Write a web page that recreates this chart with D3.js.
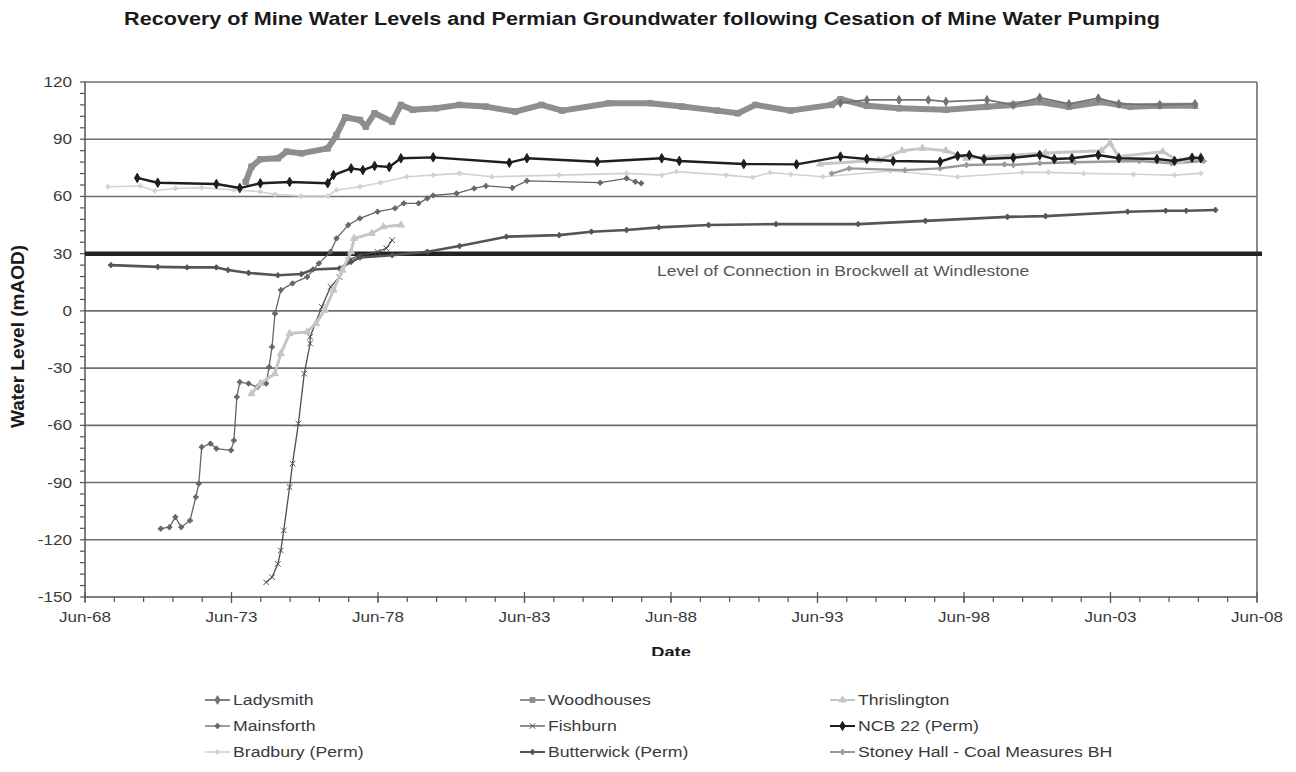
<!DOCTYPE html>
<html>
<head>
<meta charset="utf-8">
<script src="https://cdn.jsdelivr.net/npm/d3@7"></script>
<style>
  body { margin: 0; background: #fff; }
  text { font-family: Arial, "Liberation Sans", sans-serif; }
</style>
</head>
<body>
<svg id="chart"></svg>
<script>
// values: [decimal year, water level mAOD]
var ladysmith = [[1994.2,109],[1995.1,110.6],[1996.2,110.6],[1997.2,110.6],[1997.8,109.7],[1999.2,110.6],[2000.1,108],[2001.0,111.8],[2002.0,108.5],[2003.0,111.5],[2003.7,108.5],[2005.1,108],[2006.3,108.5]];
var woodhouses = [[1973.9,67.7],[1974.1,75.6],[1974.4,79.5],[1975.0,80],[1975.3,83.5],[1975.8,82.6],[1976.7,85.2],[1977.0,92.2],[1977.3,101.5],[1977.8,100.1],[1978.0,96.6],[1978.3,103.6],[1978.9,99.2],[1979.2,108],[1979.6,105.4],[1980.4,106.2],[1981.2,108],[1982.1,107.1],[1983.1,104.5],[1984.0,108],[1984.7,105],[1986.3,108.9],[1987.7,108.9],[1988.8,107.1],[1990.0,105],[1990.7,103.6],[1991.3,108],[1992.5,105],[1993.9,108],[1994.2,111],[1995.1,107.5],[1996.2,106.2],[1997.8,105.4],[1999.2,107],[2000.1,108],[2001.0,109.5],[2002.0,107],[2003.1,109.5],[2004.1,107],[2005.1,107.5],[2006.3,107.5]];
var thrislington = [[1974.1,-43.4],[1974.4,-38],[1974.9,-32.9],[1975.1,-22.4],[1975.4,-11.9],[1976.0,-11],[1976.3,-6.6],[1976.6,0.4],[1976.9,10.9],[1977.2,21.4],[1977.5,31],[1977.6,38],[1978.2,40.6],[1978.6,44.1],[1979.2,45],
  null,[1993.5,77],[1995.5,79],[1996.3,84],[1997.0,85.2],[1997.8,84],[1998.5,80],[2001.2,82.8],[2003.1,84],[2003.4,87.9],[2003.7,80.9],[2005.2,83.5],[2005.8,78.2],[2006.5,80.9]];
var mainsforth = [[1971.0,-114.2],[1971.3,-113.4],[1971.5,-108.1],[1971.7,-113.4],[1972.0,-109.9],[1972.2,-97.6],[1972.3,-90.6],[1972.4,-71.4],[1972.7,-69.6],[1972.9,-72.2],[1973.4,-73.1],[1973.5,-67.9],[1973.6,-45.1],[1973.7,-37.3],[1974.0,-38.1],[1974.3,-39.9],[1974.6,-38.1],[1974.7,-29.4],[1974.8,-18.9],[1974.9,-1.4],[1975.1,10.9],[1975.5,14.4],[1976.0,17.8],[1976.4,24.9],[1976.8,31],[1977.0,38],[1977.4,45],[1977.8,48.5],[1978.4,52],[1979.0,53.8],[1979.3,56.4],[1979.8,56.4],[1980.1,59],[1980.3,60.5],[1981.1,61.6],[1981.7,64.2],[1982.1,65.5],[1983.0,64.5],[1983.5,68.2],[1986.0,67.2],[1986.9,69.5],[1987.2,67.7],[1987.4,66.9]];
var fishburn = [[1974.6,-142.3],[1974.8,-139.6],[1975.0,-132.6],[1975.1,-125.6],[1975.2,-115.1],[1975.4,-92.4],[1975.5,-80.1],[1975.7,-59.1],[1975.9,-32.9],[1976.1,-17.1],[1976.1,-13.6],[1976.5,2.1],[1976.8,12.6],[1977.1,17.8],[1977.4,26.6],[1977.8,29.2],[1978.4,31],[1978.7,32.8],[1978.9,37.1]];
var ncb22 = [[1970.2,69.7],[1970.9,67.2],[1972.9,66.5],[1973.7,64.4],[1974.4,66.9],[1975.4,67.6],[1976.7,66.9],[1976.9,71.2],[1977.5,74.7],[1977.9,73.8],[1978.3,76],[1978.8,75.4],[1979.2,80],[1980.3,80.5],[1982.9,77.7],[1983.5,80],[1985.9,78.2],[1988.1,80],[1988.7,78.6],[1990.9,77],[1992.7,76.8],[1994.2,80.9],[1995.1,79.6],[1996.0,78.6],[1997.6,78.2],[1998.2,81.2],[1998.6,81.7],[1999.1,79.6],[2000.1,80.3],[2001.0,81.7],[2001.5,79.6],[2002.1,80],[2003.0,81.7],[2003.7,80],[2005.0,79.6],[2005.6,78.6],[2006.2,80.3],[2006.5,80]];
var bradbury = [[1969.2,65.1],[1970.3,65.5],[1970.8,63],[1971.5,64.2],[1972.4,64.6],[1973.5,63.4],[1974.4,62.5],[1974.9,61.1],[1975.8,60.2],[1976.7,60.2],[1977.0,63.4],[1977.8,65.1],[1978.5,67.2],[1979.4,70.3],[1980.3,71.2],[1981.2,72.1],[1982.3,70.3],[1984.6,71.2],[1986.9,72.1],[1988.1,71.2],[1988.6,73],[1990.3,71.2],[1991.2,70],[1991.8,72.5],[1992.5,71.6],[1993.6,70.3],[1995.9,73.3],[1998.2,70.3],[2000.4,72.6],[2001.3,72.6],[2002.5,72.1],[2004.2,71.6],[2005.6,71.2],[2006.5,72.1]];
var butterwick = [[1969.3,24],[1970.9,23.1],[1971.9,22.8],[1972.9,22.8],[1973.3,21.4],[1974.0,19.9],[1975.0,18.7],[1975.8,19.3],[1976.2,21.7],[1977.1,22.3],[1977.5,25.7],[1977.8,28],[1978.9,29.2],[1980.1,31],[1981.2,34],[1982.8,38.9],[1984.6,39.7],[1985.7,41.5],[1986.9,42.4],[1988.0,43.8],[1989.7,45],[1992.0,45.5],[1994.8,45.5],[1997.1,47.2],[1999.9,49.3],[2001.2,49.7],[2004.0,52],[2005.3,52.5],[2006.0,52.5],[2007.0,52.9]];
var stoneyHall = [[1993.9,72],[1994.5,74.7],[1996.4,73.8],[1997.6,74.7],[1998.5,76.5],[1999.8,76.8],[2000.1,76.5],[2001.0,77.4],[2002.2,77.9],[2004.4,78.6],[2005.5,77.4],[2006.6,78.6]];

var connectionLevel = 30;
var connectionLabel = "Level of Connection in Brockwell at Windlestone";
var yTicks = [-150,-120,-90,-60,-30,0,30,60,90,120];
var xTickYears = [1968,1973,1978,1983,1988,1993,1998,2003,2008];

var screen = {width:1296, height:772};
var margins = {top:82, left:85, right:39, bottom:175};
var graph = {width: screen.width-margins.left-margins.right, height: screen.height-margins.top-margins.bottom};
var stretch = 1.22;   // the picture's lettering is wide

var svg = d3.select("#chart").attr("width", screen.width).attr("height", screen.height);

var xScale = d3.scaleLinear().domain([1968 + 5/12, 2008 + 5/12]).range([margins.left, margins.left+graph.width]);
var yScale = d3.scaleLinear().domain([-150,120]).range([margins.top+graph.height, margins.top]);

var wide = function(x, y)
{
  return "translate(" + x + "," + y + ") scale(" + stretch + ",1)";
}

// series styles and legend order
var series = [
  {name:"Ladysmith", data:ladysmith, color:"#737373", width:1.8, sym:d3.symbolDiamond, size:22, col:0, row:0},
  {name:"Woodhouses", data:woodhouses, color:"#8e8e8e", width:6, sym:d3.symbolSquare, size:30, col:1, row:0},
  {name:"Thrislington", data:thrislington, color:"#c6c6c6", width:3, sym:d3.symbolTriangle, size:22, col:2, row:0},
  {name:"Mainsforth", data:mainsforth, color:"#666666", width:1.3, sym:d3.symbolCross, size:12, col:0, row:1},
  {name:"Fishburn", data:fishburn, color:"#4f4f4f", width:1.3, sym:(d3.symbolTimes || d3.symbolCross), size:22, col:1, row:1},
  {name:"NCB 22 (Perm)", data:ncb22, color:"#1e1e1e", width:2.4, sym:d3.symbolDiamond, size:26, col:2, row:1},
  {name:"Bradbury (Perm)", data:bradbury, color:"#d2d2d2", width:1.6, sym:d3.symbolCross, size:10, col:0, row:2},
  {name:"Butterwick (Perm)", data:butterwick, color:"#555555", width:2.6, sym:d3.symbolCross, size:12, col:1, row:2},
  {name:"Stoney Hall - Coal Measures BH", data:stoneyHall, color:"#9a9a9a", width:2.4, sym:d3.symbolCross, size:12, col:2, row:2}
];
var drawOrder = [6,8,1,0,7,3,4,2,5];

// gridlines
svg.selectAll(".grid").data(yTicks.filter(function(d){return d > -150;}))
  .enter().append("line")
  .attr("x1", margins.left).attr("x2", margins.left+graph.width)
  .attr("y1", function(d){return yScale(d);}).attr("y2", function(d){return yScale(d);})
  .style("stroke", "#6e6e6e").style("stroke-width", 1.6);

svg.append("line")
  .attr("x1", margins.left+graph.width).attr("x2", margins.left+graph.width)
  .attr("y1", margins.top).attr("y2", margins.top+graph.height)
  .style("stroke", "#6e6e6e").style("stroke-width", 1.6);

// y axis with minor ticks every 6
var yMinor = d3.range(-150, 121, 6);
svg.selectAll(".yminor").data(yMinor).enter().append("line")
  .attr("x1", margins.left-5).attr("x2", margins.left)
  .attr("y1", function(d){return yScale(d);}).attr("y2", function(d){return yScale(d);})
  .style("stroke", "#555").style("stroke-width", 1.2);
svg.append("line").attr("x1", margins.left).attr("x2", margins.left)
  .attr("y1", margins.top).attr("y2", margins.top+graph.height)
  .style("stroke", "#555").style("stroke-width", 1.5);
svg.selectAll(".ylab").data(yTicks).enter().append("text")
  .attr("transform", function(d){return wide(margins.left-13, yScale(d)+5);})
  .attr("text-anchor", "end").style("font-size", "14px").style("fill", "#3a3a3a")
  .text(function(d){return d;});

// x axis with yearly minor ticks
var xMinor = d3.range(1968, 2009, 1);
svg.selectAll(".xminor").data(xMinor).enter().append("line")
  .attr("x1", function(d){return xScale(d+5/12);}).attr("x2", function(d){return xScale(d+5/12);})
  .attr("y1", margins.top+graph.height).attr("y2", margins.top+graph.height+5)
  .style("stroke", "#555").style("stroke-width", 1.2);
svg.selectAll(".xmajor").data(xTickYears).enter().append("line")
  .attr("x1", function(d){return xScale(d+5/12);}).attr("x2", function(d){return xScale(d+5/12);})
  .attr("y1", margins.top+graph.height-5).attr("y2", margins.top+graph.height+6)
  .style("stroke", "#555").style("stroke-width", 1.2);
svg.append("line").attr("x1", margins.left).attr("x2", margins.left+graph.width)
  .attr("y1", margins.top+graph.height).attr("y2", margins.top+graph.height)
  .style("stroke", "#555").style("stroke-width", 1.5);
svg.selectAll(".xlab").data(xTickYears).enter().append("text")
  .attr("transform", function(d){return wide(xScale(d+5/12), margins.top+graph.height+25);})
  .attr("text-anchor", "middle").style("font-size", "14px").style("fill", "#3a3a3a")
  .text(function(d){return "Jun-" + String(d).slice(2);});

// level of connection
svg.append("line")
  .attr("x1", margins.left).attr("x2", margins.left+graph.width+5)
  .attr("y1", yScale(connectionLevel)).attr("y2", yScale(connectionLevel))
  .style("stroke", "#232323").style("stroke-width", 4.5);
svg.append("text").attr("transform", wide(657, yScale(connectionLevel)+22))
  .style("font-size", "14.3px").style("fill", "#555")
  .text(connectionLabel);

// series
var line = d3.line()
  .defined(function(d){return d != null;})
  .x(function(d){return xScale(d[0]);})
  .y(function(d){return yScale(d[1]);});

drawOrder.forEach(function(i)
{
  var s = series[i];
  svg.append("path").datum(s.data)
    .attr("d", line)
    .style("fill", "none").style("stroke", s.color).style("stroke-width", s.width)
    .style("stroke-linejoin", "round");
  svg.selectAll(".m"+i).data(s.data.filter(function(d){return d != null;}))
    .enter().append("path")
    .attr("transform", function(d){return "translate(" + xScale(d[0]) + "," + yScale(d[1]) + ")";})
    .attr("d", d3.symbol().type(s.sym).size(s.size))
    .style("fill", s.color).style("stroke", s.color).style("stroke-width", 1);
});

// titles
svg.append("text").attr("transform", wide(642, 25)).attr("text-anchor", "middle")
  .style("font-size", "17.7px").style("font-weight", "bold").style("fill", "#1a1a1a")
  .text("Recovery of Mine Water Levels and Permian Groundwater following Cesation of Mine Water Pumping");
svg.append("text").attr("transform", "translate(24," + (margins.top+graph.height/2 - 3) + ") rotate(-90)")
  .attr("text-anchor", "middle").style("font-size", "19px").style("font-weight", "bold").style("fill", "#1a1a1a")
  .text("Water Level (mAOD)");

svg.append("clipPath").attr("id", "dateclip").append("rect")
  .attr("x", 0).attr("y", 0).attr("width", screen.width).attr("height", 656);
svg.append("g").attr("clip-path", "url(#dateclip)")
  .append("text").attr("transform", wide(671, 657)).attr("text-anchor", "middle")
  .style("font-size", "15px").style("font-weight", "bold").style("fill", "#1a1a1a")
  .text("Date");

// legend
var legendX = [205, 520, 830];
var legendY = [700, 726, 752];
series.forEach(function(s)
{
  var lx = legendX[s.col], ly = legendY[s.row];
  svg.append("line").attr("x1", lx).attr("x2", lx+25).attr("y1", ly).attr("y2", ly)
    .style("stroke", s.color).style("stroke-width", Math.min(s.width, 2));
  svg.append("path").attr("transform", "translate(" + (lx+12.5) + "," + ly + ")")
    .attr("d", d3.symbol().type(s.sym).size(Math.min(s.size, 24)))
    .style("fill", s.color).style("stroke", s.color).style("stroke-width", 1);
  svg.append("text").attr("transform", wide(lx+28, ly+5))
    .style("font-size", "14.5px").style("fill", "#3a3a3a")
    .text(s.name);
});
</script>
</body>
</html>
